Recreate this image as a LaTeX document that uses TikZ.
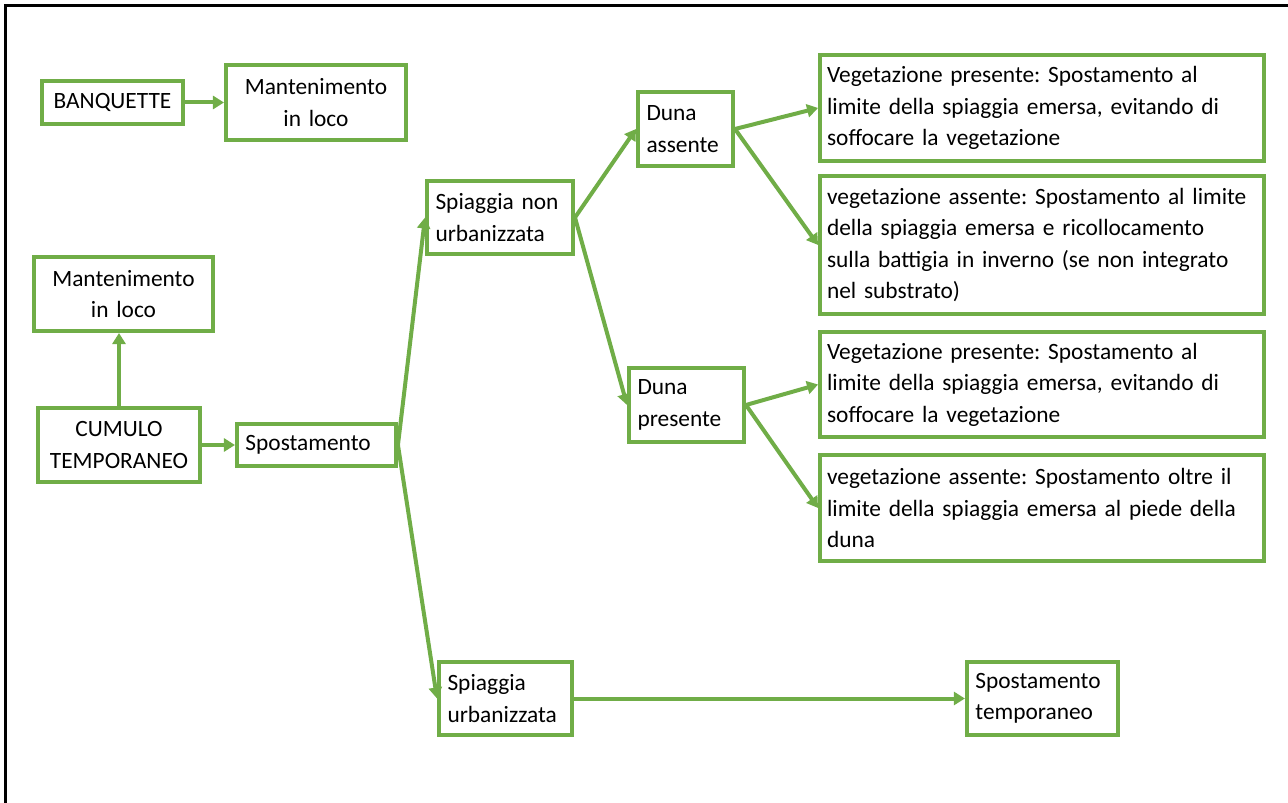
\documentclass[tikz,border=0pt]{standalone}
\usepackage{fontspec}
\setmainfont{Carlito}
\usepackage{tikz}
\usetikzlibrary{arrows.meta, positioning}
\definecolor{leafgreen}{RGB}{112,173,71}
\frenchspacing
\hyphenpenalty=10000
\exhyphenpenalty=10000

\begin{document}
\begin{tikzpicture}[
    x=0.02cm, y=-0.02cm,
    box/.style={
        rectangle,
        draw=leafgreen, line width=0.08cm,
        fill=white,
        inner xsep=0.17cm, inner ysep=0.08cm,
        font=\fontsize{13.3}{17.9}\selectfont,
        text=black
    },
    cbox/.style={box, align=center},
    lbox/.style={box, align=left},
    wide/.style={lbox, inner xsep=0.14cm, text width=8.6cm},
    arr/.style={-{Triangle[length=0.22cm, width=0.26cm]}, line width=0.08cm, color=leafgreen},
    frame/.style={line width=0.07cm, color=black},
]
\useasboundingbox (0,0) rectangle (1288,803);

% Cornice
\draw[frame] (5.5,803) -- (5.5,5.5) -- (1288,5.5);

% Colonna sinistra
\node[cbox, text width=2.48cm, minimum height=0.86cm] (banq) at (112.5,102.5) {BANQUETTE};
\node[cbox, text width=3.26cm, minimum height=1.5cm, right=0.78cm of banq] (mant1) {Mantenimento\\in loco};
\node[cbox, text width=2.9cm, minimum height=1.48cm] (cumulo) at (119,445) {CUMULO\\TEMPORANEO};
\node[cbox, text width=3.24cm, minimum height=1.48cm, above=1.46cm of cumulo, xshift=0.09cm] (mant2) {Mantenimento\\in loco};
\node[lbox, text width=2.84cm, minimum height=0.86cm, right=0.66cm of cumulo] (spost) {Spostamento};

% Tipo di spiaggia
\node[lbox, text width=2.58cm, minimum height=1.46cm] (nonurb) at (500,217.5) {Spiaggia non\\urbanizzata};
\node[lbox, text width=2.32cm, minimum height=1.46cm] (urb) at (505.5,698.5) {Spiaggia\\urbanizzata};
\node[lbox, text width=2.68cm, minimum height=1.46cm, right=7.82cm of urb] (temp) {Spostamento\\temporaneo};

% Duna
\node[lbox, text width=1.56cm, minimum height=1.48cm] (assente) at (685.5,129) {Duna\\assente};
\node[lbox, text width=1.96cm, minimum height=1.48cm] (presente) at (686.5,405) {Duna\\presente};

% Vegetazione
\node[wide, minimum height=2.12cm] (vegpres1) at (1042,108)
    {Vegetazione presente: Spostamento al\\limite della spiaggia emersa, evitando di\\soffocare la vegetazione};
\node[wide, minimum height=2.76cm] (vegass1) at (1042,245)
    {vegetazione assente: Spostamento al limite\\della spiaggia emersa e ricollocamento\\sulla battigia in inverno (se non integrato\\nel substrato)};
\node[wide, minimum height=2.1cm] (vegpres2) at (1042,384.5)
    {Vegetazione presente: Spostamento al\\limite della spiaggia emersa, evitando di\\soffocare la vegetazione};
\node[wide, minimum height=2.12cm] (vegass2) at (1042,508)
    {vegetazione assente: Spostamento oltre il\\limite della spiaggia emersa al piede della\\duna};

% Frecce a sinistra
\draw[arr] (banq) -- (mant1);
\draw[arr] (cumulo.north) -- (cumulo.north |- mant2.south);
\draw[arr] (cumulo) -- (spost);

% Frecce da Spostamento
\draw[arr] (spost.east) -- (nonurb.west);
\draw[arr] (spost.east) -- (urb.west);
\draw[arr] (urb) -- (temp);

% Frecce verso le dune
\draw[arr] (nonurb.east) -- (assente.west);
\draw[arr] (nonurb.east) -- (presente.west);

% Frecce verso la vegetazione
\draw[arr] (assente.east) -- (vegpres1.west);
\draw[arr] (assente.east) -- (vegass1.west);
\draw[arr] (presente.east) -- (vegpres2.west);
\draw[arr] (presente.east) -- (vegass2.west);

\end{tikzpicture}
\end{document}
